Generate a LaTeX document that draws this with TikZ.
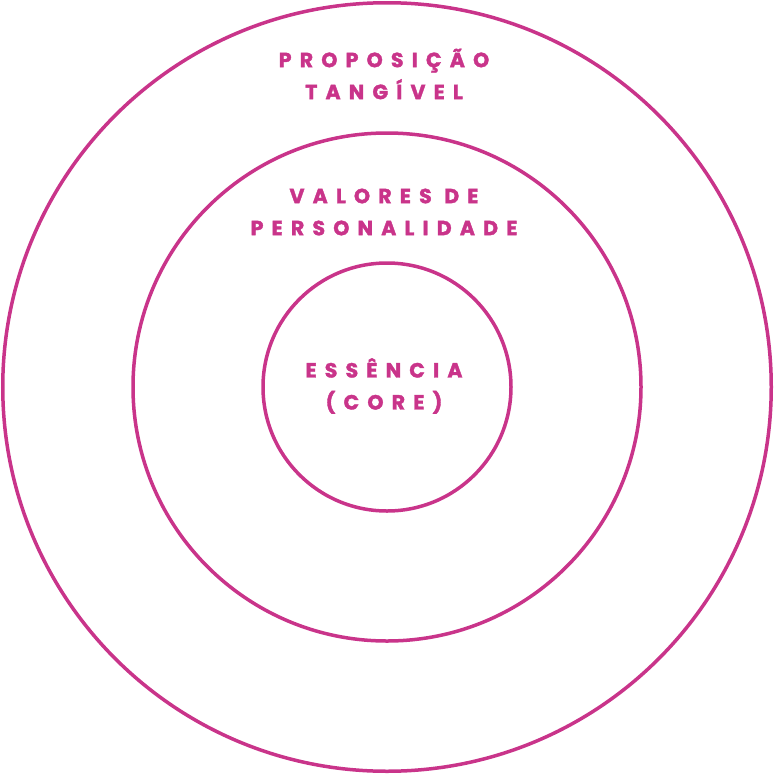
\documentclass[tikz,border=0pt]{standalone}
\usepackage{fontspec}
\setmainfont{Poppins}
\newfontfamily\lblfont{Poppins}[LetterSpace=40,BoldFont={Poppins Bold},BoldFeatures={FakeBold=1.8}]
\definecolor{mag}{HTML}{C9348A}
\begin{document}
\begin{tikzpicture}[x=1pt,y=-1pt,
  ring/.style={draw=mag,line width=3.5pt},
  lbl/.style={text=mag,font=\lblfont\bfseries\fontsize{20.5}{32}\selectfont,align=center,inner sep=0pt}]
\useasboundingbox (0,0) rectangle (774,774);
\node[ring,circle,minimum size=768.5pt,inner sep=0pt] (outer) at (387,387) {};
\node[ring,circle,minimum size=508pt,inner sep=0pt] (middle) at (387,387) {};
\node[ring,circle,minimum size=248pt,inner sep=0pt] (inner) at (387,387) {};
\node[lbl] (t1) at (384,74) {PROPOSIÇÃO\\TANGÍVEL};
\node[lbl] (t2) at (384,212) {VALORES DE\\PERSONALIDADE};
\node[lbl] (t3) at (384,386) {ESSÊNCIA\\(CORE)};
\end{tikzpicture}
\end{document}
